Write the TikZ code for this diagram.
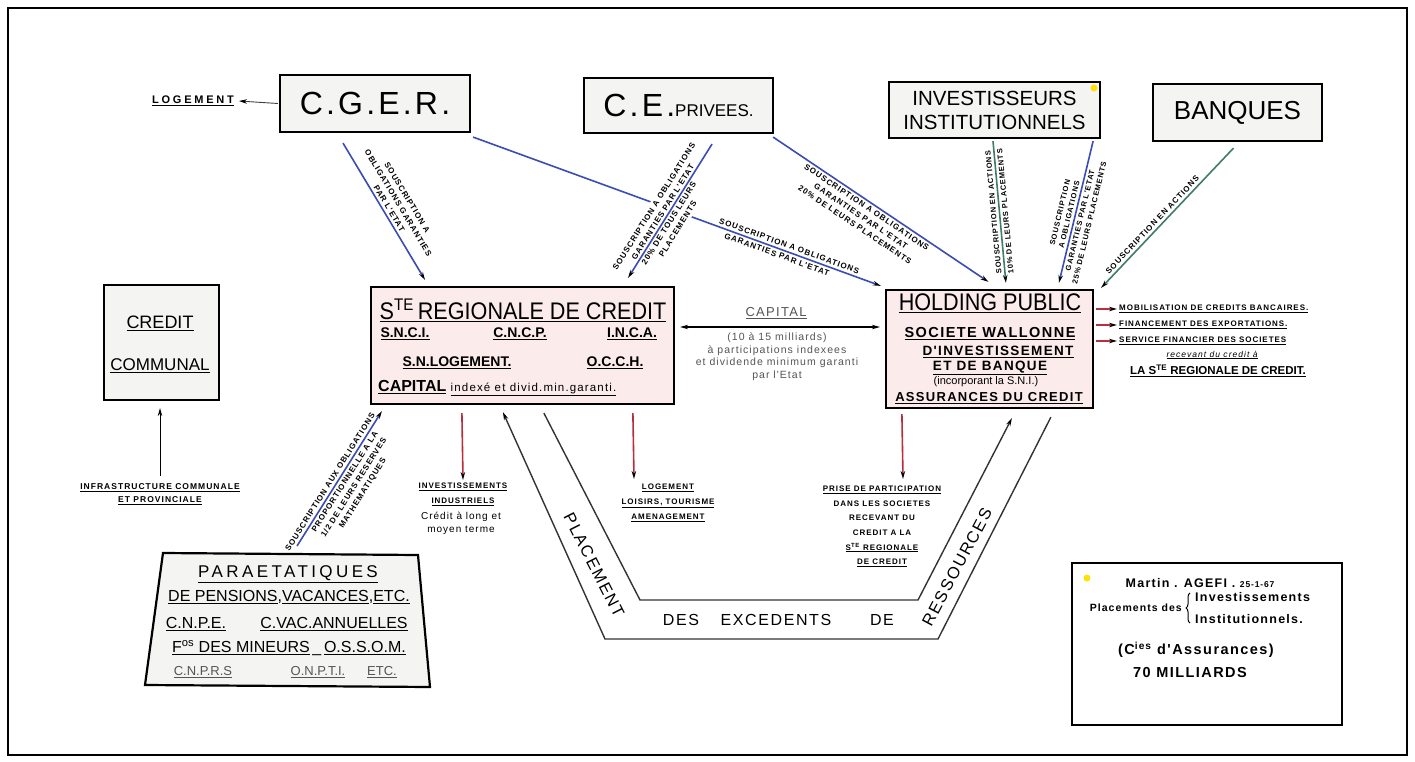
\documentclass[tikz,border=0pt]{standalone}
\usepackage{fontspec}
\setmainfont{Liberation Sans}
\newfontfamily\condF[FakeStretch=0.9]{Liberation Sans}
\newfontfamily\wideF[LetterSpace=10]{Liberation Sans}
\newfontfamily\labF[LetterSpace=12]{Liberation Sans}
\usetikzlibrary{arrows.meta,calc,decorations.pathreplacing}
\definecolor{boxgray}{HTML}{F4F4F2}
\definecolor{boxpink}{HTML}{FBEBEB}
\definecolor{cblue}{HTML}{3B4DB3}
\definecolor{cgreen}{HTML}{3F7D66}
\definecolor{cred}{HTML}{B3303C}
\definecolor{tgray}{HTML}{555555}
\tikzset{
  box/.style={draw, line width=2.2pt, fill=boxgray, inner sep=0pt},
  pbox/.style={box, fill=boxpink},
  txt/.style={inner sep=0pt, align=center},
  lbl/.style={inner sep=2.5pt, align=center, font={\labF\bfseries\fontsize{8}{10.5}\selectfont}},
  bl/.style={draw=cblue, line width=1.6pt},
  gl/.style={draw=cgreen, line width=1.6pt},
  rl/.style={draw=cred, line width=1.6pt},
  band/.style={draw=black!80, line width=1.4pt},
  tip/.style={-{Stealth[length=8pt,width=4.5pt,black]}},
  tipr/.style={{Stealth[length=8pt,width=4.5pt,black]}-},
}
\begin{document}
\begin{tikzpicture}[x=1pt,y=-1pt]
\useasboundingbox (0,0) rectangle (1415,762);
\fill[white] (0,0) rectangle (1415,762);
\node[draw, line width=1.2pt, minimum width=1399pt, minimum height=747pt, inner sep=0pt] (frame) at (707.5,381.5) {};

% ---------- boxes ----------
\node[box, minimum width=190pt, minimum height=57pt, font={\wideF\fontsize{32}{32}\selectfont}] (cger) at (375,103.5) {C.G.E.R.};
\node[box, minimum width=189pt, minimum height=55pt] (cep) at (678.5,105.5) {{\wideF\fontsize{32}{32}\selectfont C.E.}{\fontsize{17}{17}\selectfont PRIVEES.}};
\node[box, minimum width=211pt, minimum height=56pt, align=center, font={\fontsize{20.5}{24}\selectfont}] (inv) at (994.5,110) {INVESTISSEURS\\INSTITUTIONNELS};
\node[box, minimum width=169pt, minimum height=57pt, font={\fontsize{26}{26}\selectfont}] (banq) at (1237.5,112.5) {BANQUES};
\node[box, minimum width=115pt, minimum height=115pt] (cc) at (161.5,342.5) {};
\node[pbox, minimum width=303pt, minimum height=117pt] (ste) at (522.5,345.5) {};
\node[pbox, minimum width=207pt, minimum height=118pt] (hold) at (989.5,349) {};
\node[box, fill=white, line width=2pt, minimum width=270pt, minimum height=162pt] (martin) at (1207,644) {};
\draw[line width=2.2pt, fill=boxgray] (163,553) coordinate (pTL) -- (418,555) coordinate (pTR) -- (430,687) coordinate (pBR) -- (145,685) coordinate (pBL) -- cycle;
\coordinate (pLine) at (297,546);

\fill[yellow!85!orange] (1094,88) circle[radius=3.5pt];
\fill[yellow!85!orange] (1087,578) circle[radius=3.5pt];

% ---------- Ste regionale texts ----------
\node[txt, font={\condF\fontsize{24}{24}\selectfont}] (s1) at (523,310) {\underline{S\textsuperscript{TE}\,REGIONALE DE CREDIT}};
\node[txt, font={\bfseries\fontsize{14}{14}\selectfont}] (s2) at (405,334) {\underline{S.N.C.I.}};
\node[txt, font={\bfseries\fontsize{14}{14}\selectfont}] (s3) at (520,334) {\underline{C.N.C.P.}};
\node[txt, font={\bfseries\fontsize{14}{14}\selectfont}] (s4) at (632,334) {\underline{I.N.C.A.}};
\node[txt, font={\bfseries\fontsize{14}{14}\selectfont}] (s5) at (457,363) {\underline{S.N.LOGEMENT.}};
\node[txt, font={\bfseries\fontsize{14}{14}\selectfont}] (s6) at (615,363) {\underline{O.C.C.H.}};
\node[txt, anchor=west, font={\bfseries\fontsize{16}{16}\selectfont}] (s7) at (378,387) {\underline{CAPITAL}};
\node[txt, anchor=base west, font={\wideF\fontsize{11.5}{11.5}\selectfont}] (s8) at ([xshift=4pt]s7.base east) {\underline{indexé et divid.min.garanti.}};

% ---------- Holding texts ----------
\node[txt, font={\condF\fontsize{24}{24}\selectfont}] (h1) at (990,303) {\underline{HOLDING PUBLIC}};
\node[txt, font={\wideF\bfseries\fontsize{14.5}{14.5}\selectfont}] (h2) at (990,334) {\underline{SOCIETE WALLONNE}};
\node[txt, font={\wideF\bfseries\fontsize{13.5}{13.5}\selectfont}] (h3) at (998,352) {\underline{D'INVESTISSEMENT}};
\node[txt, font={\wideF\bfseries\fontsize{13.5}{13.5}\selectfont}] (h4) at (990,368) {\underline{ET DE BANQUE}};
\node[txt, font={\fontsize{11}{11}\selectfont}] (h5) at (986,382) {(incorporant la S.N.I.)};
\node[txt, font={\wideF\bfseries\fontsize{13}{13}\selectfont}] (h6) at (989,398) {\underline{ASSURANCES DU CREDIT}};

% ---------- Credit communal ----------
\node[txt, font={\fontsize{18}{18}\selectfont}] (c1) at (160,323) {\underline{CREDIT}};
\node[txt, font={\fontsize{17}{17}\selectfont}] (c2) at (160,366) {\underline{COMMUNAL}};
\node[lbl, font={\labF\bfseries\fontsize{8.5}{13}\selectfont}] (infra) at (160,494) {\underline{INFRASTRUCTURE COMMUNALE}\\\underline{ET PROVINCIALE}};
\draw[line width=1pt, tip] (160,476) coordinate (ccA) -- ([xshift=-1.5pt,yshift=-7pt]cc.south);

% ---------- Paraetatiques ----------
\node[txt, font={\wideF\fontsize{17}{17}\selectfont\addfontfeature{LetterSpace=20}}] (p1) at (288,574) {\underline{PARAETATIQUES}};
\node[txt, font={\fontsize{16}{16}\selectfont}] (p2) at (289,597) {\underline{DE PENSIONS},\underline{VACANCES},\underline{ETC.}};
\node[txt, font={\fontsize{16}{16}\selectfont}] (p3) at (196,624) {\underline{C.N.P.E.}};
\node[txt, font={\fontsize{16}{16}\selectfont}] (p4) at (334,624) {\underline{C.VAC.ANNUELLES}};
\node[txt, font={\fontsize{16}{16}\selectfont}] (p5) at (289,648) {\underline{F\textsuperscript{os} DES MINEURS}\,\_\,\underline{O.S.S.O.M.}};
\node[txt, text=tgray, font={\fontsize{13}{13}\selectfont}] (p6) at (203,672) {\underline{C.N.P.R.S}};
\node[txt, text=tgray, font={\fontsize{13}{13}\selectfont}] (p7) at (318,672) {\underline{O.N.P.T.I.}};
\node[txt, text=tgray, font={\fontsize{13}{13}\selectfont}] (p8) at (382,672) {\underline{ETC.}};

% ---------- Logement (left) ----------
\node[txt, font={\labF\bfseries\fontsize{11}{11}\selectfont\addfontfeature{LetterSpace=25}}] (logT) at (193,101) {\underline{LOGEMENT}};
\draw[line width=0.9pt, black!75, tip] ([xshift=-1pt]cger.west) -- ([xshift=5pt]logT.east);

% ---------- Capital arrow ----------
\draw[line width=1.1pt, {Stealth[length=8pt,width=4.5pt,black]}-{Stealth[length=8pt,width=4.5pt,black]}] ([xshift=5pt,yshift=18.5pt]ste.east) -- ([xshift=-5pt,yshift=22pt]hold.west);
\node[txt, text=tgray, font={\wideF\fontsize{13}{13}\selectfont}] (capT) at (776,313) {\underline{CAPITAL}};
\node[txt, anchor=north, text=tgray, font={\wideF\fontsize{10.5}{12.5}\selectfont}] (capB) at (777,333) {(10 à 15 milliards)\\à participations indexees\\et dividende minimum garanti\\par l'Etat};

% ---------- Holding right side ----------
\node[txt, anchor=west, font={\labF\bfseries\fontsize{8}{9}\selectfont}] (m1) at (1119,309) {\underline{MOBILISATION DE CREDITS BANCAIRES.}};
\node[txt, anchor=west, font={\labF\bfseries\fontsize{8}{9}\selectfont}] (m2) at (1119,325) {\underline{FINANCEMENT DES EXPORTATIONS.}};
\node[txt, anchor=west, font={\labF\bfseries\fontsize{8}{9}\selectfont}] (m3) at (1119,341) {\underline{SERVICE FINANCIER DES SOCIETES}};
\node[txt, font={\labF\itshape\fontsize{8.5}{9}\selectfont}] (m4) at (1212,355) {\underline{recevant du credit à}};
\node[txt, font={\bfseries\fontsize{11.5}{12}\selectfont}] (m5) at (1218,371) {\underline{LA S\textsuperscript{TE} REGIONALE DE CREDIT.}};
\draw[rl, tip] ([xshift=2pt,yshift=40pt]hold.east) -- ([xshift=-2pt]m1.west);
\draw[rl, tip] ([xshift=2pt,yshift=24pt]hold.east) -- ([xshift=-2pt]m2.west);
\draw[rl, tip] ([xshift=2pt,yshift=8pt]hold.east) -- ([xshift=-2pt]m3.west);

% ---------- downward red arrows & labels ----------
\node[txt, anchor=north, font={\labF\bfseries\fontsize{8}{15}\selectfont}] (lInv) at (463,483) {\underline{INVESTISSEMENTS}\\\underline{INDUSTRIELS}};
\node[txt, anchor=north, font={\wideF\fontsize{10}{13}\selectfont}] (lInv2) at (461,512) {Crédit à long et\\moyen terme};
\draw[rl, tip] ([xshift=92pt,yshift=-8pt]ste.south west) -- ([yshift=3pt]lInv.north);

\node[txt, anchor=north, font={\labF\bfseries\fontsize{8}{15}\selectfont}] (lLog) at (668,484) {\underline{LOGEMENT}\\\underline{LOISIRS, TOURISME}\\\underline{AMENAGEMENT}};
\coordinate (logEnd) at (634,479);
\draw[rl, tip] ([xshift=263pt,yshift=-8pt]ste.south west) -- (logEnd);

\node[txt, anchor=north, font={\labF\bfseries\fontsize{8}{14.6}\selectfont}] (lPrise) at (882,486) {\underline{PRISE DE PARTICIPATION}\\DANS LES SOCIETES\\RECEVANT DU\\CREDIT A LA\\\underline{S\textsuperscript{TE} REGIONALE}\\\underline{DE CREDIT}};
\coordinate (priseEnd) at (903,479);
\draw[rl, tip] ([xshift=17pt,yshift=-5pt]hold.south west) -- (priseEnd);

% ---------- placement band ----------
\coordinate (bo1) at (938,639);
\coordinate (bo2) at (605,639);
\coordinate (bi1) at (640,600);
\coordinate (bi2) at (918,600);
\draw[band, tip] ([xshift=166pt,yshift=-8pt]hold.south west) -- (bo1) -- (bo2) -- ([xshift=133pt,yshift=-7pt]ste.south west);
\draw[band, tip] ([xshift=174pt,yshift=-8pt]ste.south west) -- (bi1) -- (bi2) -- ([xshift=127pt,yshift=-9pt]hold.south west);
\node[txt, rotate=-63, font={\wideF\fontsize{16.5}{16.5}\selectfont}] (bt1) at (594,565) {PLACEMENT};
\node[txt, font={\wideF\fontsize{16}{16}\selectfont}] (bt2) at (681,620) {DES};
\node[txt, font={\wideF\fontsize{16}{16}\selectfont}] (bt3) at (776,620) {EXCEDENTS};
\node[txt, font={\wideF\fontsize{16}{16}\selectfont}] (bt4) at (882,620) {DE};
\node[txt, rotate=62, font={\wideF\fontsize{16.5}{16.5}\selectfont}] (bt5) at (957,567) {RESSOURCES};

% ---------- blue / green connectors ----------
\draw[bl, tip] ([xshift=-32pt,yshift=-10pt]cger.south) -- ([xshift=-97.5pt,yshift=6pt]ste.north)
  node[lbl, sloped, above, pos=0.5] (lA) {SOUSCRIPTION A\\OBLIGATIONS GARANTIES\\PAR L'ETAT};
\draw[bl, tip] ([xshift=2pt,yshift=-4pt]cger.south east) -- ([xshift=-4pt,yshift=3pt]hold.north west)
  node[lbl, sloped, above, pos=0.77] (lB1) {SOUSCRIPTION A OBLIGATIONS}
  node[lbl, sloped, below, pos=0.75] (lB2) {GARANTIES PAR L'ETAT};
\path ([xshift=-47pt,yshift=8pt]ste.north east) coordinate (ceS) -- ([xshift=33.5pt,yshift=-10pt]cep.south) coordinate (ceT)
  node[lbl, sloped, above, pos=0.47, fill=white, inner sep=2.5pt] (lC1) {SOUSCRIPTION A OBLIGATIONS\\GARANTIES PAR L'ETAT}
  node[lbl, sloped, below, pos=0.43, fill=white, inner sep=2.5pt] (lC2) {20\% DE TOUS LEURS\\PLACEMENTS};
\draw[bl, tipr] (ceS) -- (ceT);
\draw[bl, tip] ([xshift=-1pt,yshift=-3pt]cep.south east) -- ([xshift=-1pt,yshift=7pt]hold.north)
  node[lbl, sloped, below, pos=0.45] (lD) {SOUSCRIPTION A OBLIGATIONS\\GARANTIES PAR L'ETAT\\20\% DE LEURS PLACEMENTS};
\draw[gl, tipr] ([xshift=121pt,yshift=6pt]hold.north west) -- ([xshift=-1.5pt,yshift=-2pt]inv.south)
  node[lbl, sloped, above, pos=0.5, allow upside down, font={\labF\bfseries\fontsize{7.5}{9.5}\selectfont}] (lE1) {SOUSCRIPTION EN ACTIONS}
  node[lbl, sloped, below, pos=0.5, allow upside down, font={\labF\bfseries\fontsize{7.5}{9.5}\selectfont}] (lE2) {10\% DE LEURS PLACEMENTS};
\draw[bl, tipr] ([xshift=174pt,yshift=6pt]hold.north west) -- ([xshift=-8pt,yshift=-2pt]inv.south east)
  node[lbl, sloped, above, pos=0.47, font={\labF\bfseries\fontsize{7.5}{9.5}\selectfont}] (lF1) {SOUSCRIPTION\\A OBLIGATIONS}
  node[lbl, sloped, below, pos=0.45, font={\labF\bfseries\fontsize{7.5}{9.5}\selectfont}] (lF2) {GARANTIES PAR L'ETAT\\25\% DE LEURS PLACEMENTS};
\draw[gl, tipr] ([xshift=7pt,yshift=1pt]hold.north east) -- ([xshift=-4pt,yshift=-6pt]banq.south)
  node[lbl, sloped, above, pos=0.42] (lG) {SOUSCRIPTION EN ACTIONS};
\draw[bl, tip] (pLine) -- ([xshift=12pt,yshift=-6pt]ste.south west)
  node[lbl, sloped, above, pos=0.45] (lH1) {SOUSCRIPTION AUX OBLIGATIONS}
  node[lbl, sloped, below, pos=0.5] (lH2) {PROPORTIONNELLE A LA\\1/2 DE LEURS RESERVES\\MATHEMATIQUES};

% ---------- Martin box ----------
\node[txt, font={\wideF\bfseries\fontsize{12.5}{13}\selectfont}] (mt1) at (1200,583) {Martin . AGEFI . {\fontsize{8.5}{8.5}\selectfont 25-1-67}};
\node[txt, anchor=east, font={\wideF\bfseries\fontsize{10.5}{11}\selectfont}] (mt2) at (1182,608) {Placements des};
\draw[line width=1pt, decorate, decoration={brace, amplitude=4pt}] (1190,623) coordinate (brB) -- (1190,593) coordinate (brT);
\node[txt, anchor=west, font={\wideF\bfseries\fontsize{12.5}{12.5}\selectfont}] (mt3) at (1195,597) {Investissements};
\node[txt, anchor=west, font={\wideF\bfseries\fontsize{12.5}{12.5}\selectfont}] (mt4) at (1195,619) {Institutionnels.};
\node[txt, font={\wideF\bfseries\fontsize{14.5}{14.5}\selectfont}] (mt5) at (1196,650) {(C\textsuperscript{ies} d'Assurances)};
\node[txt, font={\wideF\bfseries\fontsize{14.5}{14.5}\selectfont}] (mt6) at (1190,673) {70 MILLIARDS};
\end{tikzpicture}
\end{document}
